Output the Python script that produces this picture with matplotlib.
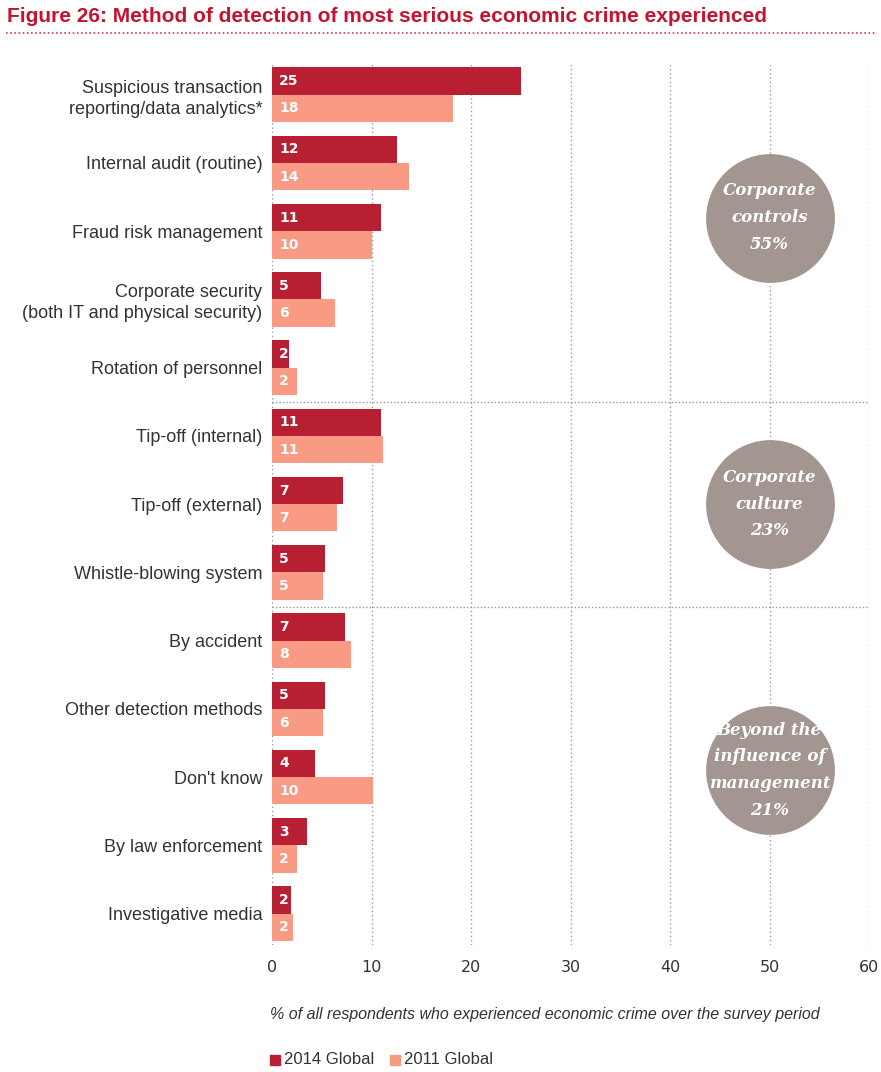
#!/usr/bin/env python3
"""Method of detection of most serious economic crime experienced."""

import matplotlib.pyplot as plt
import numpy as np
from matplotlib.patches import Rectangle

categories = [
    "Suspicious transaction\nreporting/data analytics*",
    "Internal audit (routine)",
    "Fraud risk management",
    "Corporate security\n(both IT and physical security)",
    "Rotation of personnel",
    "Tip-off (internal)",
    "Tip-off (external)",
    "Whistle-blowing system",
    "By accident",
    "Other detection methods",
    "Don't know",
    "By law enforcement",
    "Investigative media",
]
values_2014 = [25, 12.6, 11, 4.9, 1.7, 11, 7.1, 5.3, 7.3, 5.3, 4.3, 3.5, 1.9]
values_2011 = [18.2, 13.8, 10, 6.3, 2.5, 11.2, 6.5, 5.1, 7.9, 5.1, 10.2, 2.5, 2.1]
labels_2014 = [25, 12, 11, 5, 2, 11, 7, 5, 7, 5, 4, 3, 2]
labels_2011 = [18, 14, 10, 6, 2, 11, 7, 5, 8, 6, 10, 2, 2]
groups = ["Corporate\ncontrols\n55%", "Corporate\nculture\n23%",
          "Beyond the\ninfluence of\nmanagement\n21%"]
group_y = [1.8, 6.0, 9.9]
xticks = [0, 10, 20, 30, 40, 50, 60]

RED = "#b81f33"
SALMON = "#f89a84"
TAUPE = "#a3958f"
TEXT = "#333333"

plt.rcParams["font.family"] = ["Liberation Sans", "DejaVu Sans"]


def main():
    fig = plt.figure(figsize=(8.81, 10.72), dpi=100)
    ax = fig.add_axes([272 / 881, 1 - 945 / 1072, 597 / 881, 883 / 1072])

    y = np.arange(len(categories))
    h = 0.4
    ax.barh(y - h / 2, values_2014, height=h, color=RED, zorder=3)
    ax.barh(y + h / 2, values_2011, height=h, color=SALMON, zorder=3)
    for yi, a, b in zip(y, labels_2014, labels_2011):
        for yy, v in [(yi - h / 2, a), (yi + h / 2, b)]:
            ax.text(0.7, yy, str(v), color="white", fontsize=10,
                    fontweight="bold", family="DejaVu Sans",
                    va="center", ha="left", zorder=4)

    ax.set_xlim(0, 60)
    ax.set_ylim(12.46, -0.48)
    ax.set_yticks(y)
    ax.set_yticklabels(categories, fontsize=13, color=TEXT, linespacing=1.3)
    ax.set_xticks(xticks)
    ax.set_xticklabels([str(t) for t in xticks], fontsize=11.5, color=TEXT,
                       family="DejaVu Sans")
    ax.tick_params(length=0, pad=11)
    ax.tick_params(axis="y", pad=7)
    for s in ax.spines.values():
        s.set_visible(False)
    for t in xticks:
        ax.axvline(t, color="#999999", linestyle=(0, (1, 2)), linewidth=1, zorder=1)
    for sep in [4.5, 7.5]:
        ax.axhline(sep, color="#999999", linestyle=(0, (1, 1.5)), linewidth=1, zorder=1)

    # group circles
    for gy, label in zip(group_y, groups):
        ax.scatter([50], [gy], s=8600, color=TAUPE, zorder=5, linewidths=0)
        ax.text(50, gy, label, color="white", fontsize=12, fontweight="bold",
                fontstyle="italic", family="DejaVu Serif", ha="center",
                va="center", linespacing=1.75, zorder=6)

    # title
    fig.text(7 / 881, 1 - 17 / 1072, "Figure 26: Method of detection of most "
             "serious economic crime experienced", color="#c4122f",
             fontsize=15, fontweight="bold", va="center", ha="left")
    fig.add_artist(plt.Line2D([0.007, 0.995], [1 - 33 / 1072] * 2,
                              color="#d23a4a", linestyle=(0, (1, 1.5)),
                              linewidth=1.2, transform=fig.transFigure))

    fig.text(270 / 881, 1 - 1015 / 1072, "% of all respondents who experienced "
             "economic crime over the survey period", fontsize=11.5,
             fontstyle="italic", color=TEXT, va="center", ha="left")

    # legend
    for x0, col, lab in [(270, RED, "2014 Global"), (390, SALMON, "2011 Global")]:
        fig.add_artist(Rectangle((x0 / 881, 1 - 1065 / 1072), 10 / 881, 10 / 1072,
                                 color=col, transform=fig.transFigure))
        fig.text((x0 + 14) / 881, 1 - 1060 / 1072, lab, fontsize=12,
                 color=TEXT, va="center", ha="left")

    fig.savefig("out.png", dpi=100)


if __name__ == "__main__":
    main()
